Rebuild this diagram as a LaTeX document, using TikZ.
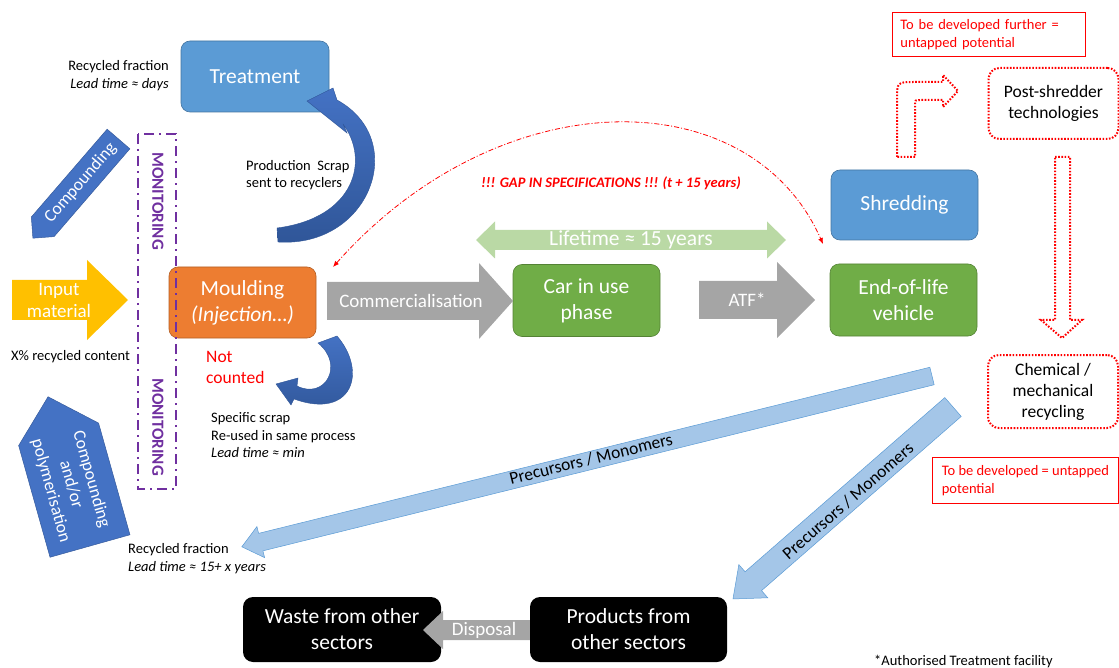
\documentclass[tikz,border=0pt]{standalone}
\usepackage{fontspec}
\setmainfont{Carlito}
\usepackage{xcolor}
\usepackage{tikz}
\usetikzlibrary{arrows.meta,positioning}
\definecolor{boxblue}{HTML}{5B9BD5}
\definecolor{boxorange}{HTML}{ED7D31}
\definecolor{boxgreen}{HTML}{70AD47}
\definecolor{arrowgray}{HTML}{A5A5A5}
\definecolor{darkblue}{HTML}{4472C4}
\definecolor{deepblue}{HTML}{2F5597}
\definecolor{gold}{HTML}{FFC000}
\definecolor{monpurple}{HTML}{7030A0}
\definecolor{lightgreen}{HTML}{BAD9A5}
\definecolor{paleblue}{HTML}{A4C6E8}
\definecolor{alertred}{HTML}{FF0000}
\newcommand{\fsbox}{\fontsize{21.5}{26}\selectfont}
\newcommand{\fsarrow}{\fontsize{19}{22}\selectfont}
\newcommand{\fsmid}{\fontsize{17.5}{21}\selectfont}
\newcommand{\fsmon}{\fontsize{17}{20}\selectfont}
\newcommand{\fsnote}{\fontsize{14.5}{17.5}\selectfont}
\tikzset{
  stage/.style={rectangle, rounded corners=9pt, draw=#1!75!black, fill=#1, line width=0.6pt,
    text=white, font=\fsbox, align=center, minimum width=147pt, minimum height=72pt, inner sep=2pt},
  darkstage/.style={rectangle, rounded corners=10pt, fill=black, text=white, font=\fsbox,
    align=center, minimum width=197pt, minimum height=65pt, inner sep=2pt},
  % block arrow: length, shaft half width, head half width, head length
  pics/blockarrow/.style n args={4}{code={
    \path[pic actions] (0,-#2) -- ({#1-#4},-#2) -- ({#1-#4},-#3) -- (#1,0)
      -- ({#1-#4},#3) -- ({#1-#4},#2) -- (0,#2) -- cycle;
  }},
  grayarrow/.style={fill=arrowgray},
  precarrow/.style={fill=paleblue, draw=boxblue, line width=0.5pt},
  comparrow/.style={fill=darkblue, draw=darkblue!80!black, line width=0.5pt},
  arrowtext/.style={text=white, font=\fsarrow, align=center, inner sep=0pt},
  prectext/.style={font=\fsmid, inner sep=0pt},
  comptext/.style={text=white, font=\fsmid, align=center, inner sep=0pt},
  curvearrow/.style={top color=darkblue, bottom color=deepblue, draw=deepblue, line width=0.4pt},
  note/.style={font=\fsnote, inner sep=0pt},
  alertbox/.style={draw=alertred, line width=0.8pt, text=alertred, font=\fsnote, align=left,
    inner xsep=8pt, minimum height=44pt},
  reddot/.style={draw=alertred, line width=2pt, dash pattern=on 1.6pt off 1.6pt},
  dotbox/.style={reddot, rounded corners=11pt, font=\fsmid, align=center, minimum width=130pt,
    minimum height=71pt, inner sep=2pt},
  monitor/.style={draw=monpurple, line width=2.2pt, dash pattern=on 10pt off 5pt on 2pt off 5pt},
  montext/.style={text=monpurple, font=\fsmon\bfseries, rotate=-90, inner sep=0pt},
  gapline/.style={draw=alertred, line width=0.8pt, dash pattern=on 5pt off 2pt on 1pt off 2pt,
    {Latex[length=6pt,width=5pt]}-{Latex[length=6pt,width=5pt]}},
}

\begin{document}
\begin{tikzpicture}[x=1pt,y=-1pt]
  \useasboundingbox (0,0) rectangle (1119,668);

  % process boxes
  \node[stage=boxblue, minimum width=148pt, minimum height=71pt] (treat) at (255,76.5) {Treatment};
  \node[stage=boxorange, minimum height=71pt] (mould) at (242.5,302.5) {Moulding\\\textit{(Injection…)}};
  \node[stage=boxgreen] (car) at (586.5,300.5) {Car in use\\phase};
  \node[stage=boxgreen] (eol) at (903.5,300) {End-of-life\\vehicle};
  \node[stage=boxblue, minimum height=70pt] (shred) at (904.5,205) {Shredding};

  % block arrows
  \pic[fill=gold] at (12,300) {blockarrow={116}{20}{40}{41}};
  \node[arrowtext] (input) at (59,300) {Input\\material};
  \pic[grayarrow] at (327,301) {blockarrow={186}{19}{38}{34}};
  \node[arrowtext] (commerc) at (411,300.5) {Commercialisation};
  \pic[grayarrow] at (699,300) {blockarrow={116}{19}{38}{38}};
  \node[arrowtext] (atf) at (747,300) {ATF*};

  \fill[lightgreen] (476,240) -- (495,221.5) -- (495,230) -- (767,230) -- (767,221.5) -- (786,240)
    -- (767,258.5) -- (767,250) -- (495,250) -- (495,258.5) -- cycle;
  \node[arrowtext, font=\fsbox] (lifetime) at (631,240) {Lifetime ≈ 15 years};

  \pic[comparrow, rotate=229.2] at (118.5,139) {blockarrow={131}{15}{15}{15}};
  \node[comptext, rotate=49.2] (compA) at (80.6,183) {Compounding};
  \pic[comparrow, rotate=105.7] at (90,546) {blockarrow={155}{41.5}{41.5}{39}};
  \node[comptext, rotate=-74.3] (compB) at (71,485) {Compounding\\and/or\\polymerisation};

  \pic[precarrow, rotate=193.9] at (932,376) {blockarrow={711}{9}{16}{19.5}};
  \node[prectext, rotate=13.9] (precA) at (591,459) {Precursors / Monomers};
  \pic[precarrow, rotate=221.1] at (953,407) {blockarrow={292}{12.5}{22}{27}};
  \node[prectext, rotate=41.1] (precB) at (848,501) {Precursors / Monomers};

  % scrap loops
  \shade[curvearrow] (333,88) -- (307,101) -- (347,133) -- (343,124)
    .. controls (370,160) and (355,218) .. (277,228) -- (278,242)
    .. controls (370,248) and (410,140) .. (337,100) -- cycle;
  \shade[curvearrow] (318,343) -- (337,336) .. controls (368,372) and (352,420) .. (294,399)
    -- (291,405) -- (276,384) -- (298,378) -- (297,386)
    .. controls (325,400) and (345,365) .. (318,343) -- cycle;

  % monitoring frame
  \draw[monitor] (138,134) rectangle (176,489);
  \node[montext] (monA) at (158,201) {MONITORING};
  \node[montext] (monB) at (158,427) {MONITORING};

  % gap in specifications
  \coordinate (gapL) at (333,267);
  \coordinate (gapR) at (823,244);
  \draw[gapline] (gapL) .. controls (500,79) and (750,79) .. (gapR);
  \node[note, text=alertred, font=\fsnote\bfseries\itshape] (gaptxt) at (611,183)
    {!!! GAP IN SPECIFICATIONS !!! (t + 15 years)};

  % untapped potential
  \draw[reddot] (897,157) -- (897,100) .. controls (897,82) .. (915,82) -- (943,82) -- (943,75)
    -- (958,91) -- (943,107) -- (943,100) -- (920,100) .. controls (915,100) .. (915,105)
    -- (915,157) -- cycle;
  \draw[reddot] (1055,157) -- (1070,157) -- (1070,320) -- (1082,320) -- (1062,338)
    -- (1041,320) -- (1055,320) -- cycle;
  \node[dotbox] (postshred) at (1053.5,103.5) {Post-shredder\\technologies};
  \node[dotbox, minimum height=73pt] (chemrec) at (1053,391.5) {Chemical /\\mechanical\\recycling};
  \node[alertbox, text width=177pt, anchor=north west] (devA) at (892,12)
    {To be developed further =\\untapped potential};
  \node[alertbox, minimum width=186pt, minimum height=46pt, anchor=north west] (devB) at (932,457)
    {To be developed = untapped\\potential};

  % other sectors
  \node[darkstage, minimum width=198pt] (waste) at (342,629.5) {Waste from other\\sectors};
  \pic[grayarrow, rotate=180] at (537,630) {blockarrow={114}{10}{19}{20}};
  \node[arrowtext] (dispose) at (484,630) {Disposal};
  \node[darkstage] (products) at (628.5,629.5) {Products from\\other sectors};

  % notes
  \node[note, align=right, anchor=east] (recfracA) at (169,75.5) {Recycled fraction\\\textit{Lead time ≈ days}};
  \node[note, align=left, anchor=west] (scraptxt) at (246,175) {Production\ \ Scrap\\sent to recyclers};
  \node[note, anchor=west] (xpct) at (11,356.5) {X\% recycled content};
  \node[note, font=\fsmid, text=alertred, align=left, anchor=west] (notcounted) at (206,367) {Not\\counted};
  \node[note, align=left, anchor=west] (specscrap) at (211,435.5)
    {Specific scrap\\Re-used in same process\\\textit{Lead time ≈ min}};
  \node[note, align=left, anchor=west] (recfracB) at (128,558.5)
    {Recycled fraction\\\textit{Lead time ≈ 15+ x years}};
  \node[note, anchor=west] (footnote) at (874,661.5) {*Authorised Treatment facility};
\end{tikzpicture}
\end{document}
